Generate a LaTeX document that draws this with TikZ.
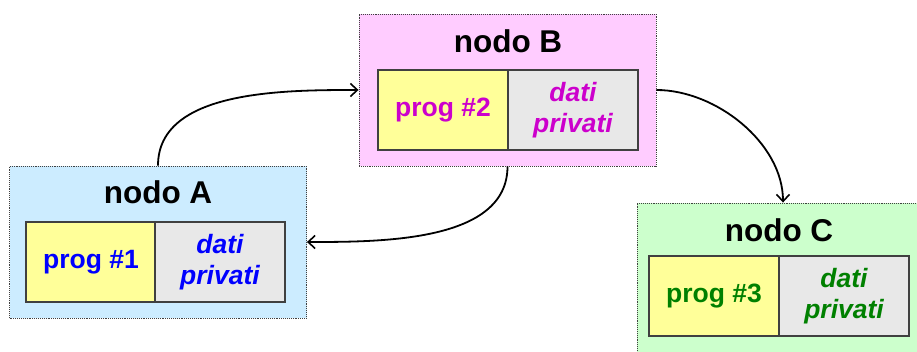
\documentclass[tikz,border=0pt]{standalone}
\usepackage{fontspec}
\setmainfont{Liberation Sans}
\usetikzlibrary{arrows.meta}
\definecolor{bgA}{HTML}{CCECFF}
\definecolor{bgB}{HTML}{FFCCFF}
\definecolor{bgC}{HTML}{CCFFCC}
\definecolor{progbg}{HTML}{FFFF99}
\definecolor{databg}{HTML}{E8E8E8}
\definecolor{txtA}{HTML}{0000FF}
\definecolor{txtB}{HTML}{CC00CC}
\definecolor{txtC}{HTML}{008000}
\definecolor{edge}{HTML}{404040}
\tikzset{
  host/.style={draw=edge, densely dotted, line width=0.9pt, minimum width=297pt, minimum height=152pt, inner sep=0pt},
  title/.style={font=\fontsize{31.5}{36}\selectfont\bfseries, text=black, inner sep=0pt},
  progbox/.style={draw=edge, line width=1.4pt, fill=progbg, minimum width=130pt, minimum height=80pt, inner sep=0pt, font=\fontsize{26.5}{30}\selectfont\bfseries},
  databox/.style={draw=edge, line width=1.4pt, fill=databg, minimum width=130pt, minimum height=80pt, inner sep=0pt, align=center, font=\fontsize{26.5}{31.5}\selectfont\bfseries\itshape},
  link/.style={-{Straight Barb[length=7pt,width=13pt,line width=1.6pt]}, line width=1.8pt, black}
}
\begin{document}
\begin{tikzpicture}[x=1pt,y=-1pt]
\useasboundingbox (0,0) rectangle (917,352);
\begin{scope}
\clip (0,0) rectangle (917,352);
% host A
\node[host, fill=bgA] (A) at (158,242) {};
\node[title] (At) at (158,192) {nodo A};
\node[progbox, text=txtA] (Ap) at (91,262) {prog \#1};
\node[databox, text=txtA] (Ad) at (220,262) {dati\\privati};
% host B
\node[host, fill=bgB] (B) at (507.5,90) {};
\node[title] (Bt) at (508,41) {nodo B};
\node[progbox, text=txtB] (Bp) at (443,110) {prog \#2};
\node[databox, text=txtB] (Bd) at (573,110) {dati\\privati};
% host C
\node[host, fill=bgC] (C) at (785.5,279) {};
\node[title] (Ct) at (779,230) {nodo C};
\node[progbox, text=txtC] (Cp) at (714,296) {prog \#3};
\node[databox, text=txtC] (Cd) at (844,296) {dati\\privati};
\end{scope}
% message flows
\draw[link] (A.north) to[out=90, in=180, looseness=0.9] (B.west);
\draw[link] (B.south) to[out=-90, in=0, looseness=0.9] (A.east);
\draw[link] (B.east) to[out=0, in=90, looseness=0.9] ([xshift=-2.5pt]C.north);
\end{tikzpicture}
\end{document}
